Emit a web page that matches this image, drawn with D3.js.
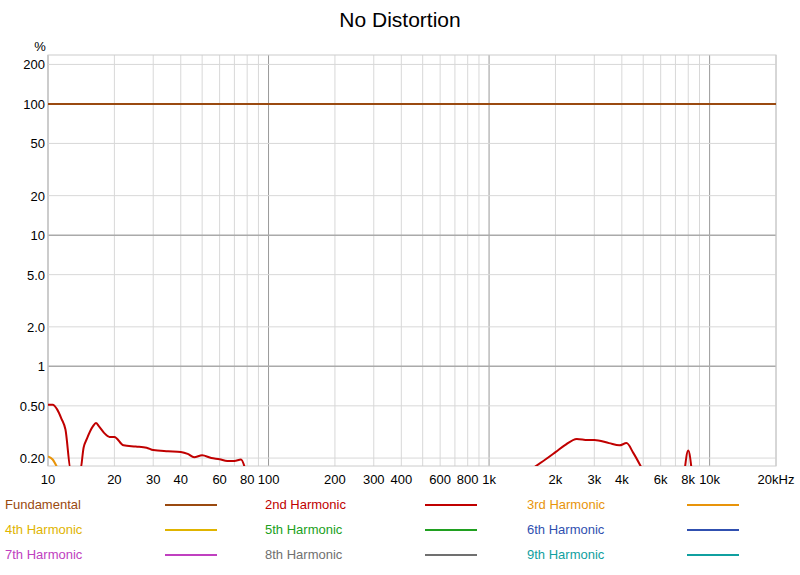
<!DOCTYPE html><html><head><script src="https://cdn.jsdelivr.net/npm/d3@7"></script>
<style>body{margin:0;background:#fff;font-family:"Helvetica","Liberation Sans",Arial,sans-serif}</style></head><body><svg id="c" width="800" height="575"></svg><script>
const xTicks=[10,20,30,40,60,80,100,200,300,400,600,800,1000,2000,3000,4000,6000,8000,10000,20000];
const xTickLabels=["10","20","30","40","60","80","100","200","300","400","600","800","1k","2k","3k","4k","6k","8k","10k","20kHz"];
const yTicks=[0.2,0.5,1,2,5,10,20,50,100,200];
const yTickLabels=["0.20","0.50","1","2.0","5.0","10","20","50","100","200"];
const seriesNames=["Fundamental","2nd Harmonic","3rd Harmonic","4th Harmonic","5th Harmonic","6th Harmonic","7th Harmonic","8th Harmonic","9th Harmonic"];
const seriesColors=["#9a4a10","#c00000","#e8940a","#e0b400","#20a020","#3050b0","#c040c0","#707070","#10a0a0"];
const fundamental=[[10,100],[20000,100]];
const h2Low=[[10,0.51],[10.5,0.51],[11,0.47],[11.5,0.4],[12,0.33],[12.7,0.16],[14,0.16],[14.5,0.24],[15,0.28],[16,0.35],[16.5,0.37],[17,0.35],[18,0.31],[19,0.29],[20,0.29],[22,0.25],[25,0.245],[28,0.24],[30,0.23],[35,0.225],[40,0.222],[43,0.215],[46,0.203],[50,0.21],[55,0.2],[60,0.196],[65,0.19],[70,0.19],[75,0.195],[78,0.17]];
const h2High=[[1600,0.17],[1800,0.195],[2000,0.222],[2200,0.25],[2500,0.28],[2800,0.275],[3000,0.275],[3500,0.26],[3900,0.25],[4200,0.26],[4500,0.22],[4900,0.17]];
const h2Peak=[[7700,0.16],[8000,0.228],[8300,0.16]];
const h3Low=[[10,0.206],[10.5,0.195],[11,0.17]];
const m={l:48,r:776,t:55,b:466};
const svg=d3.select("#c");
const x=d3.scaleLog().domain([10,20000]).range([m.l,m.r]);
const y=d3.scaleLog().domain([0.174,236]).range([m.b,m.t]);
svg.append("text").attr("x",400).attr("y",27).attr("text-anchor","middle").attr("font-size",21).text("No Distortion");
const g=svg.append("g");
const minorX=[];for(let d=10;d<20000;d*=10)for(let k=1;k<10;k++){const v=d*k;if(v<=20000)minorX.push(v);}
minorX.forEach(v=>{const major=[10,100,1000,10000].includes(v);g.append("line").attr("x1",x(v)).attr("x2",x(v)).attr("y1",m.t).attr("y2",m.b).attr("stroke",major?"#999":"#d8d8d8").attr("stroke-width",1);});
g.append("line").attr("x1",x(20000)).attr("x2",x(20000)).attr("y1",m.t).attr("y2",m.b).attr("stroke","#d8d8d8");
yTicks.forEach(v=>{const major=[1,10,100].includes(v);g.append("line").attr("x1",m.l).attr("x2",m.r).attr("y1",y(v)).attr("y2",y(v)).attr("stroke",major?"#aaa":"#d8d8d8").attr("stroke-width",major?1.5:1);});
g.append("rect").attr("x",m.l).attr("y",m.t).attr("width",m.r-m.l).attr("height",m.b-m.t).attr("fill","none").attr("stroke","#ccc");
xTicks.forEach((v,i)=>svg.append("text").attr("x",x(v)).attr("y",m.b+18).attr("text-anchor","middle").attr("font-size",13).text(xTickLabels[i]));
yTicks.forEach((v,i)=>svg.append("text").attr("x",m.l-3).attr("y",y(v)+5).attr("text-anchor","end").attr("font-size",13).text(yTickLabels[i]));
svg.append("text").attr("x",40).attr("y",51).attr("text-anchor","middle").attr("font-size",13).text("%");
svg.append("clipPath").attr("id","cp").append("rect").attr("x",m.l).attr("y",m.t).attr("width",m.r-m.l).attr("height",m.b-m.t);
const line=d3.line().x(d=>x(d[0])).y(d=>y(d[1])).curve(d3.curveMonotoneX);
const pg=svg.append("g").attr("clip-path","url(#cp)");
[[fundamental,0],[h3Low,2],[h2Low,1],[h2High,1],[h2Peak,1]].forEach(([d,c])=>pg.append("path").attr("d",line(d)).attr("fill","none").attr("stroke",seriesColors[c]).attr("stroke-width",2));
seriesNames.forEach((n,i)=>{const col=i%3,row=Math.floor(i/3);const tx=[5,265,527][col],ty=509+row*25;
svg.append("text").attr("x",tx).attr("y",ty).attr("font-size",13).attr("fill",seriesColors[i]).text(n);
svg.append("line").attr("x1",tx+160).attr("x2",tx+212).attr("y1",ty-4).attr("y2",ty-4).attr("stroke",seriesColors[i]).attr("stroke-width",2);});
</script></body></html>
